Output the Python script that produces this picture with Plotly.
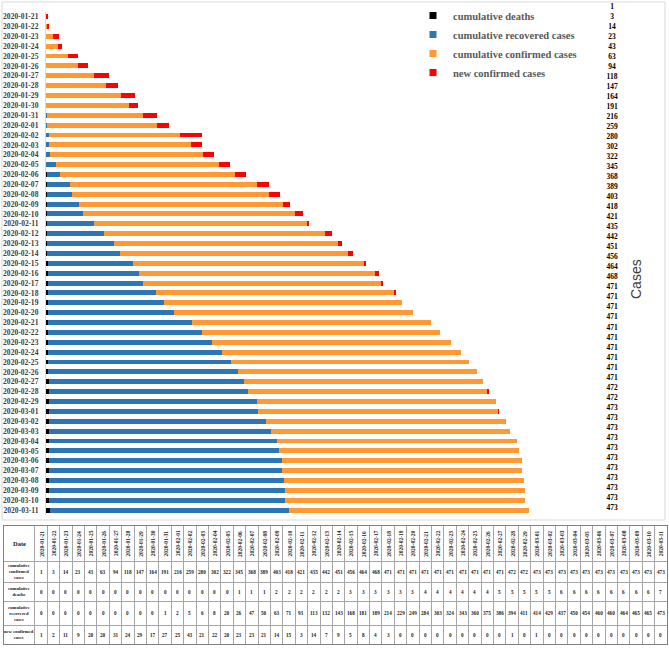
import plotly.graph_objects as go

# daily figures, 2020-01-21 .. 2020-03-11
dates = [
    "2020-01-21", "2020-01-22", "2020-01-23", "2020-01-24", "2020-01-25", "2020-01-26",
    "2020-01-27", "2020-01-28", "2020-01-29", "2020-01-30", "2020-01-31", "2020-02-01",
    "2020-02-02", "2020-02-03", "2020-02-04", "2020-02-05", "2020-02-06", "2020-02-07",
    "2020-02-08", "2020-02-09", "2020-02-10", "2020-02-11", "2020-02-12", "2020-02-13",
    "2020-02-14", "2020-02-15", "2020-02-16", "2020-02-17", "2020-02-18", "2020-02-19",
    "2020-02-20", "2020-02-21", "2020-02-22", "2020-02-23", "2020-02-24", "2020-02-25",
    "2020-02-26", "2020-02-27", "2020-02-28", "2020-02-29", "2020-03-01", "2020-03-02",
    "2020-03-03", "2020-03-04", "2020-03-05", "2020-03-06", "2020-03-07", "2020-03-08",
    "2020-03-09", "2020-03-10", "2020-03-11",
]
confirmed = [1, 3, 14, 23, 43, 63, 94, 118, 147, 164, 191, 216, 259, 280, 302, 322, 345,
             368, 389, 403, 418, 421, 435, 442, 451, 456, 464, 468, 471, 471, 471, 471,
             471, 471, 471, 471, 471, 471, 472, 472, 473, 473, 473, 473, 473, 473, 473,
             473, 473, 473, 473]
deaths = [0, 0, 0, 0, 0, 0, 0, 0, 0, 0, 0, 0, 0, 0, 0, 0, 1, 1, 1, 2, 2, 2, 2, 2, 2,
          3, 3, 3, 3, 3, 3, 4, 4, 4, 4, 4, 4, 5, 5, 5, 5, 5, 6, 6, 6, 6, 6, 6, 6, 6, 7]
recovered = [0, 0, 0, 0, 0, 0, 0, 0, 0, 0, 1, 2, 5, 6, 8, 20, 26, 47, 50, 63, 71, 93,
             113, 132, 143, 168, 181, 189, 214, 229, 249, 284, 303, 324, 343, 360, 375,
             386, 394, 411, 414, 429, 437, 450, 454, 460, 460, 464, 465, 465, 473]
new_confirmed = [1, 2, 11, 9, 20, 20, 31, 24, 29, 17, 27, 25, 43, 21, 22, 20, 23, 23, 21,
                 14, 15, 3, 14, 7, 9, 5, 8, 4, 3, 0, 0, 0, 0, 0, 0, 0, 0, 0, 1, 0, 1, 0,
                 0, 0, 0, 0, 0, 0, 0, 0, 0]

series_names = ["cumulative deaths", "cumulative recovered cases",
                "cumulative confirmed cases", "new confirmed cases"]
row_names = ["cumulative<br>confirmed<br>cases", "cumulative<br>deaths",
             "cumulative<br>recovered<br>cases", "new confirmed<br>cases"]
colors = ["#000000", "#2E75B6", "#FF9933", "#FF0000"]

W, H = 669, 648
SERIF = "Liberation Serif"


def fx(p):
    return p / W


def fy(p):
    return 1 - p / H


fig = go.Figure()

# stacked horizontal bars
for name, vals, col in zip(series_names, [deaths, recovered, confirmed, new_confirmed], colors):
    fig.add_trace(go.Bar(y=dates, x=vals, orientation="h", name=name,
                         marker=dict(color=col, line_width=0), showlegend=False))

# small square legend keys
for name, col in zip(series_names, colors):
    fig.add_trace(go.Scatter(x=[None], y=[None], mode="markers", name=name,
                             marker=dict(symbol="square", size=7, color=col)))

# cumulative confirmed labels on the right
fig.add_trace(go.Scatter(x=[0] * len(dates), y=dates, xaxis="x2", yaxis="y2",
                         mode="text", text=[str(v) for v in confirmed],
                         textfont=dict(family=SERIF, size=7.5, color="black", weight="bold"),
                         showlegend=False, hoverinfo="skip"))

# table below the chart
row_edges = [0, 35, 56, 75, 99, 118]
col_edges = [-3.0] + [i - 0.5 for i in range(len(dates) + 1)]
label_x = -1.75
ann = []
ann.append(dict(x=label_x, y=(row_edges[0] + row_edges[1]) / 2, xref="x3", yref="y3",
                text="Date", showarrow=False,
                font=dict(family=SERIF, size=6.5, color="#222", weight="bold")))
for i, d in enumerate(dates):
    ann.append(dict(x=i, y=(row_edges[0] + row_edges[1]) / 2, xref="x3", yref="y3",
                    text=d, textangle=-90, showarrow=False,
                    font=dict(family=SERIF, size=5.5, color="#222", weight="bold")))
for r, (label, vals) in enumerate(zip(row_names, [confirmed, deaths, recovered, new_confirmed])):
    yc = (row_edges[r + 1] + row_edges[r + 2]) / 2
    ann.append(dict(x=label_x, y=yc, xref="x3", yref="y3", text=label, showarrow=False,
                    font=dict(family=SERIF, size=4.6, color="#222", weight="bold")))
    for i, v in enumerate(vals):
        ann.append(dict(x=i, y=yc, xref="x3", yref="y3", text=str(v), showarrow=False,
                        font=dict(family=SERIF, size=5.2, color="#222", weight="bold")))

ann.append(dict(x=fx(636), y=fy(279), xref="paper", yref="paper", text="Cases",
                xanchor="center", yanchor="middle", textangle=-90, showarrow=False,
                font=dict(family="Liberation Sans", size=14, color="#404040")))

fig.update_layout(
    width=W, height=H,
    margin=dict(l=0, r=0, t=0, b=0),
    paper_bgcolor="white", plot_bgcolor="rgba(0,0,0,0)",
    barmode="stack", bargap=0.5,
    xaxis=dict(domain=[fx(46), fx(600)], range=[0, 554 / 0.507], visible=False),
    yaxis=dict(domain=[fy(515), fy(11.6)], type="category", categoryarray=dates,
               range=[len(dates) - 0.5, -0.5], tickmode="array", tickvals=dates,
               ticks="", showline=True, linecolor="#D9D9D9", showgrid=False,
               ticklabelstandoff=5,
               tickfont=dict(family=SERIF, size=7.6, color="#404040", weight="bold")),
    xaxis2=dict(domain=[fx(602), fx(622)], range=[-1, 1], visible=False, anchor="y2"),
    yaxis2=dict(domain=[fy(513), fy(2)], type="category", categoryarray=dates,
                range=[len(dates) - 0.5, -0.5], visible=False, anchor="x2"),
    xaxis3=dict(domain=[fx(4), fx(667)], range=[col_edges[0], col_edges[-1]], anchor="y3",
                tickmode="array", tickvals=col_edges, showticklabels=False, ticks="",
                showgrid=True, gridcolor="#A6A6A6", gridwidth=1, zeroline=False,
                showline=True, mirror=True, linecolor="#808080"),
    yaxis3=dict(domain=[fy(644), fy(526)], range=[row_edges[-1], row_edges[0]], anchor="x3",
                tickmode="array", tickvals=row_edges, showticklabels=False, ticks="",
                showgrid=True, gridcolor="#A6A6A6", gridwidth=1, zeroline=False,
                showline=True, mirror=True, linecolor="#808080"),
    legend=dict(x=fx(413), y=fy(1), xanchor="left", yanchor="top",
                bgcolor="rgba(0,0,0,0)", itemwidth=30, traceorder="normal",
                font=dict(family=SERIF, size=10.5, color="#595959", weight="bold")),
    annotations=ann,
    shapes=[dict(type="rect", xref="paper", yref="paper", x0=fx(2), x1=fx(665),
                 y0=fy(520), y1=fy(2), line=dict(color="#D9D9D9", width=1), layer="below")],
    showlegend=True,
)

# the page's default body margin would push the 669x648 figure past the window
fig.write_html("out.html", config={"displayModeBar": False},
               post_script="document.body.style.margin = '0';")
